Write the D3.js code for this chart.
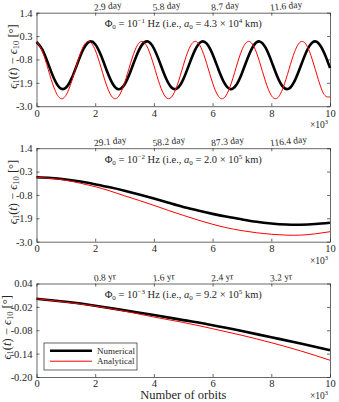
<!DOCTYPE html>
<meta charset="utf-8">
<style>
  body { margin: 0; background: #fff; }
  text { font-family: "Liberation Serif", "DejaVu Serif", serif; fill: #262626; }
</style>
<script src="https://d3js.org/d3.v7.min.js"></script>
<svg id="chart" width="339" height="402"></svg>
<script>
// x samples, in units of 10^3 orbits
const orbitsFine = [0,0.2,0.4,0.6,0.8,1,1.2,1.4,1.6,1.8,2,2.2,2.4,2.6,2.8,3,3.2,3.4,3.6,3.8,4,
  4.2,4.4,4.6,4.8,5,5.2,5.4,5.6,5.8,6,6.2,6.4,6.6,6.8,7,7.2,7.4,7.6,7.8,8,
  8.2,8.4,8.6,8.8,9,9.2,9.4,9.6,9.8,10];
const orbitsHalf = [0,0.5,1,1.5,2,2.5,3,3.5,4,4.5,5,5.5,6,6.5,7,7.5,8,8.5,9,9.5,10];
const orbitsUnit = [0,1,2,3,4,5,6,7,8,9,10];

// panel 1: Phi0 = 1e-1 Hz
const num1 = [0.028,-0.337,-1.010,-1.711,-2.146,-2.134,-1.679,-0.973,-0.309,0.035,-0.085,
  -0.618,-1.342,-1.954,-2.200,-1.976,-1.375,-0.650,-0.102,0.040,-0.284,
  -0.938,-1.650,-2.121,-2.156,-1.739,-1.045,-0.364,0.021,-0.052,-0.552,
  -1.271,-1.907,-2.196,-2.017,-1.445,-0.718,-0.140,0.047,-0.234,-0.866,
  -1.586,-2.092,-2.174,-1.796,-1.118,-0.422,0.002,-0.024,-0.489,-1.199];
const ana1 = [0.030,-0.422,-1.277,-2.142,-2.621,-2.495,-1.822,-0.910,-0.176,0.043,-0.354,
  -1.183,-2.067,-2.599,-2.536,-1.907,-1.000,-0.230,0.049,-0.290,-1.091,
  -1.988,-2.570,-2.570,-1.989,-1.091,-0.290,0.049,-0.230,-0.999,-1.906,
  -2.536,-2.599,-2.067,-1.184,-0.354,0.043,-0.176,-0.909,-1.822,-2.495,
  -2.621,-2.142,-1.277,-0.423,0.030,-0.127,-0.821,-1.734,-2.449,-2.560];

// panel 2: Phi0 = 1e-2 Hz
const num2 = [0.03,0.0,-0.07,-0.17,-0.30,-0.44,-0.60,-0.78,-0.97,-1.17,-1.37,
  -1.53,-1.69,-1.83,-1.95,-2.06,-2.14,-2.19,-2.20,-2.17,-2.11];
const ana2 = [0.03,-0.02,-0.11,-0.25,-0.41,-0.61,-0.84,-1.06,-1.29,-1.53,-1.76,
  -1.98,-2.18,-2.35,-2.48,-2.58,-2.65,-2.69,-2.69,-2.63,-2.53];

// panel 3: Phi0 = 1e-3 Hz
const num3 = [0.001,-0.007,-0.017,-0.029,-0.041,-0.054,-0.067,-0.082,-0.098,-0.114,-0.131];
const ana3 = [0.001,-0.008,-0.018,-0.031,-0.046,-0.060,-0.076,-0.093,-0.112,-0.133,-0.157];

const xTicks = [0, 2, 4, 6, 8, 10];
const yTicksBig = [-3.0, -1.9, -0.8, 0.3, 1.4];
const yTicksSmall = [-0.20, -0.14, -0.08, -0.02, 0.04];
const topLabels1 = ["2.9", "5.8", "8.7", "11.6"];
const topLabels2 = ["29.1", "58.2", "87.3", "116.4"];
const topLabels3 = ["0.8", "1.6", "2.4", "3.2"];
const legendLabels = ["Numerical", "Analytical"];

const svg = d3.select("#chart");
const left = 36.5, right = 330, ph = 93.5;
const axisColor = "#262626";

const x = d3.scaleLinear().domain([0, 10]).range([left, right]);

function panel(top, xs, numVals, anaVals, yDomain, yTicks, fmt, topLabs, unit, freqExp, aMant, aExp, ylabX) {
  const y = d3.scaleLinear().domain(yDomain).range([top + ph, top]);
  const g = svg.append("g");

  // axes (MATLAB style: inward ticks, box on)
  g.append("g").attr("transform", `translate(0,${top + ph})`)
    .call(d3.axisBottom(x).tickValues(xTicks).tickSizeInner(-3).tickSizeOuter(0).tickPadding(3).tickFormat(d3.format("d")));
  g.append("g").attr("transform", `translate(0,${top})`)
    .call(d3.axisTop(x).tickValues(xTicks).tickSizeInner(-3).tickSizeOuter(0).tickFormat(""));
  g.append("g").attr("transform", `translate(${left},0)`)
    .call(d3.axisLeft(y).tickValues(yTicks).tickSizeInner(-3).tickSizeOuter(0).tickPadding(4).tickFormat(fmt));
  g.append("g").attr("transform", `translate(${right},0)`)
    .call(d3.axisRight(y).tickValues(yTicks).tickSizeInner(-3).tickSizeOuter(0).tickFormat(""));
  g.selectAll(".domain, .tick line").attr("stroke", axisColor).attr("stroke-width", 0.7);
  g.selectAll(".tick text").attr("font-size", 10.5).attr("fill", axisColor)
    .attr("font-family", "Liberation Serif");

  // curves
  const line = d3.line().x((d, i) => x(xs[i])).y(d => y(d)).curve(d3.curveNatural);
  g.append("path").datum(numVals).attr("d", line)
    .attr("fill", "none").attr("stroke", "#000").attr("stroke-width", 2.6);
  g.append("path").datum(anaVals).attr("d", line)
    .attr("fill", "none").attr("stroke", "#ff0000").attr("stroke-width", 1);

  // top axis labels (time)
  topLabs.forEach((lab, i) => {
    const tx = x(xTicks[i + 1]);
    g.append("text")
      .attr("transform", `translate(${tx - 1},${top - 2}) rotate(-6)`)
      .attr("font-size", 9.5)
      .text(lab + " " + unit);
  });

  // annotation
  const ann = g.append("text").attr("x", x(5)).attr("y", top + 14.5)
    .attr("text-anchor", "middle").attr("font-size", 10.5);
  ann.append("tspan").text("Φ");
  ann.append("tspan").attr("font-size", 7).attr("dy", 2).text("0");
  ann.append("tspan").attr("dy", -2).text(" = 10");
  ann.append("tspan").attr("font-size", 7).attr("dy", -4).text("−" + freqExp);
  ann.append("tspan").attr("dy", 4).text(" Hz (i.e., ");
  ann.append("tspan").attr("font-style", "italic").text("a");
  ann.append("tspan").attr("font-size", 7).attr("dy", 2).text("0");
  ann.append("tspan").attr("dy", -2).text(" = " + aMant + " × 10");
  ann.append("tspan").attr("font-size", 7).attr("dy", -4).text(aExp);
  ann.append("tspan").attr("dy", 4).text(" km)");

  // x10^3 multiplier
  const mult = g.append("text").attr("x", 310).attr("y", top + ph + 22).attr("font-size", 9.5);
  mult.append("tspan").text("×10");
  mult.append("tspan").attr("font-size", 6.5).attr("dy", -4).text("3");

  // y label
  const yl = g.append("text")
    .attr("transform", `translate(${ylabX},${top + ph / 2 - 3}) rotate(-90)`)
    .attr("text-anchor", "middle").attr("font-size", 12.5);
  yl.append("tspan").attr("font-style", "italic").text("ϵ");
  yl.append("tspan").attr("font-size", 8.5).attr("dy", 2.5).text("1");
  yl.append("tspan").attr("dy", -2.5).text("(");
  yl.append("tspan").attr("font-style", "italic").text("t");
  yl.append("tspan").text(") − ");
  yl.append("tspan").attr("font-style", "italic").text("ϵ");
  yl.append("tspan").attr("font-size", 8.5).attr("dy", 2.5).text("10");
  yl.append("tspan").attr("dy", -2.5).text("  [°]");

  return { g, y };
}

panel(12.7, orbitsFine, num1, ana1, [-3.0, 1.4], yTicksBig, d => d.toFixed(1), topLabels1, "day", "1", "4.3", "4", 16.5);
panel(148.2, orbitsHalf, num2, ana2, [-3.0, 1.4], yTicksBig, d => d.toFixed(1), topLabels2, "day", "2", "2.0", "5", 16.5);
const p3 = panel(283.5, orbitsUnit, num3, ana3, [-0.20, 0.04], yTicksSmall, d => d.toFixed(2), topLabels3, "yr", "3", "9.2", "5", 10.5);

// legend
const leg = p3.g.append("g");
leg.append("rect").attr("x", 44).attr("y", 343).attr("width", 93).attr("height", 27)
  .attr("fill", "#fff").attr("stroke", axisColor).attr("stroke-width", 0.7);
const legColors = ["#000", "#ff0000"], legWidths = [2.6, 1];
legendLabels.forEach((lab, i) => {
  const ly = 350.7 + i * 10.5;
  leg.append("line").attr("x1", 50).attr("x2", 92).attr("y1", ly).attr("y2", ly)
    .attr("stroke", legColors[i]).attr("stroke-width", legWidths[i]);
  leg.append("text").attr("x", 97).attr("y", ly + 3).attr("font-size", 9).text(lab);
});

// x label
svg.append("text").attr("x", x(5)).attr("y", 399).attr("text-anchor", "middle")
  .attr("font-size", 12.5).text("Number of orbits");
</script>
